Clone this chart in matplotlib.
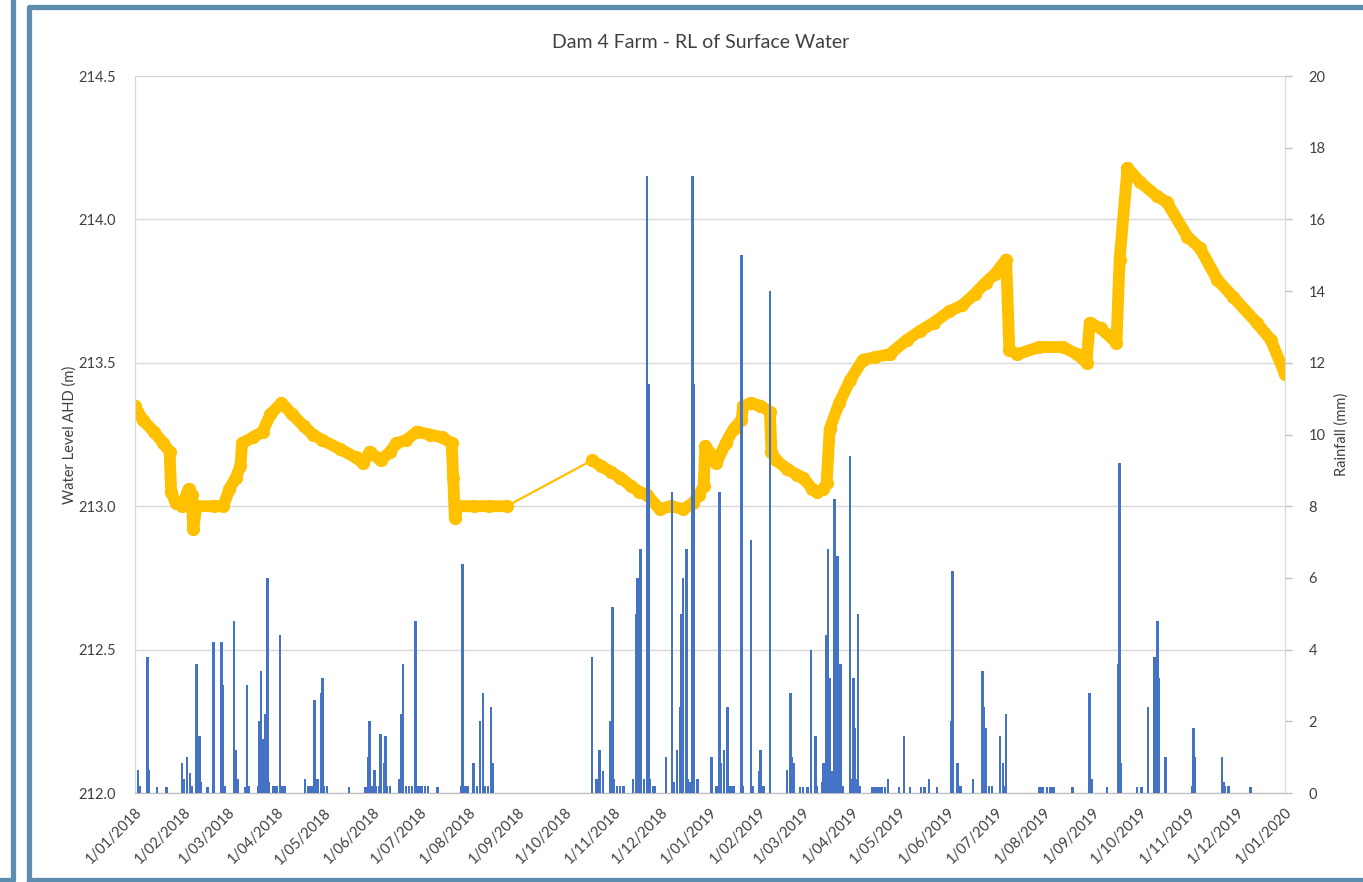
import numpy as np
import matplotlib
matplotlib.use("Agg")
import matplotlib.pyplot as plt
import matplotlib.dates as mdates
from matplotlib.lines import Line2D

plt.rcParams['font.family'] = ['Lato', 'DejaVu Sans']

# days counted from 1/01/2018
start = np.datetime64('2018-01-01')
end = np.datetime64('2020-01-01')

# water level (m AHD)
level_day = [0, 5, 12, 18, 22, 23, 26, 30, 34, 36, 37, 39, 50, 56, 60, 64, 67, 68,
             75, 81, 86, 93, 100, 107, 113, 119, 130, 140, 145, 149, 156, 162, 166,
             172, 179, 187, 195, 201, 202, 203, 205, 215, 225, 236,
             290, 296, 302, 308, 315, 320, 325, 333, 340, 348, 354, 358, 361, 362,
             366, 369, 375, 380, 385, 386, 391, 397, 403, 404, 407, 414, 420, 424,
             430, 433, 437, 439, 441, 447, 454, 462, 470, 479, 490, 498, 507, 517,
             525, 533, 540, 546, 553, 555, 560, 574, 589, 598, 604, 606, 613, 623,
             625, 630, 638, 649, 655, 668, 676, 687, 697, 712, 721, 730]
level_m = [213.35, 213.30, 213.26, 213.22, 213.19, 213.05, 213.01, 213.00, 213.06,
           213.04, 212.92, 213.00, 213.00, 213.00, 213.06, 213.10, 213.14, 213.22,
           213.24, 213.26, 213.32, 213.36, 213.32, 213.28, 213.25, 213.23, 213.20,
           213.17, 213.15, 213.19, 213.16, 213.19, 213.22, 213.23, 213.26, 213.25,
           213.24, 213.22, 213.10, 212.96, 213.00, 213.00, 213.00, 213.00,
           213.16, 213.14, 213.12, 213.10, 213.07, 213.05, 213.04, 212.99, 213.00,
           212.99, 213.01, 213.04, 213.07, 213.21, 213.18, 213.15, 213.22, 213.27,
           213.30, 213.35, 213.36, 213.35, 213.33, 213.19, 213.16, 213.13, 213.11,
           213.10, 213.06, 213.05, 213.06, 213.08, 213.27, 213.36, 213.44, 213.51,
           213.52, 213.53, 213.58, 213.61, 213.64, 213.68, 213.70, 213.74, 213.78,
           213.81, 213.86, 213.545, 213.53, 213.555, 213.555, 213.53, 213.50, 213.64,
           213.62, 213.57, 213.86, 214.18, 214.13, 214.08, 214.06, 213.94, 213.90,
           213.79, 213.73, 213.64, 213.58, 213.46]
gap_from, gap_to = 236, 290  # no logger data in between

# daily rainfall (mm)
rain_day = [2, 3, 8, 9, 14, 20, 30, 31, 33, 35, 36, 39, 41, 42, 46, 50, 55, 56, 57,
            63, 64, 65, 70, 71, 72, 78, 79, 80, 81, 82, 83, 84, 85, 88, 90, 92, 93,
            95, 108, 110, 112, 114, 115, 116, 118, 119, 120, 122, 136, 146, 147,
            148, 149, 150, 152, 153, 155, 156, 158, 159, 160, 162, 168, 169, 170,
            172, 174, 176, 178, 180, 182, 184, 186, 192,
            207, 208, 209, 210, 211, 215, 217, 219, 221, 222, 224, 226, 227,
            290, 293, 295, 297, 302, 303, 304, 306, 308, 310, 316, 318, 319, 321,
            323, 325, 326, 327, 329, 330, 337, 341, 342, 344, 346, 347, 348, 350,
            351, 352, 354, 355, 357, 366, 369, 371, 372, 374, 376,
            378, 380, 385, 386, 391, 392, 396, 397, 399, 403, 414, 416, 417, 418,
            422, 424, 427, 429, 432, 433, 436, 437, 439, 440, 441, 442, 443, 444,
            445, 446, 447, 448, 449, 454, 455, 456, 457, 458, 459, 460,
            468, 470, 472, 474, 476, 478, 485, 488, 492, 499, 501, 504, 509,
            518, 519, 522, 523, 524, 532, 538, 539, 540, 542, 544, 549, 551, 552,
            553, 574, 576, 579, 581, 583, 595, 606, 607, 617, 624, 625, 626, 636,
            639, 643, 647, 649, 650, 654, 671, 672, 673, 690, 691, 692, 694, 708]
rain_mm = [0.64, 0.2, 3.8, 0.64, 0.18, 0.18, 0.83, 0.4, 1.0, 0.55, 0.2, 3.6, 1.6,
           0.3, 0.18, 4.2, 4.2, 3.0, 0.2, 4.8, 1.2, 0.4, 0.18, 3.0, 0.2, 0.2, 2.0,
           3.4, 1.5, 0.4, 2.2, 6.0, 0.3, 0.2, 0.2, 4.4, 0.2, 0.2, 0.4, 0.2, 0.2,
           2.6, 0.4, 0.4, 2.8, 3.2, 0.2, 0.2, 0.18, 0.18, 0.18, 1.0, 2.0, 0.2,
           0.64, 0.2, 0.2, 1.65, 0.83, 1.6, 0.2, 0.2, 0.4, 2.2, 3.6, 0.2, 0.2,
           0.2, 4.8, 0.2, 0.2, 0.2, 0.2, 0.18,
           0.2, 6.4, 0.2, 0.2, 0.2, 0.83, 0.2, 2.0, 2.8, 0.2, 0.2, 2.4, 0.83,
           3.8, 0.4, 1.2, 0.6, 2.0, 5.2, 0.4, 0.2, 0.2, 0.2, 0.4, 5.0, 6.0, 6.8,
           0.4, 17.2, 11.4, 0.4, 0.2, 0.2, 1.0, 8.4, 0.3, 1.2, 2.4, 5.0, 6.0, 6.8,
           0.4, 0.3, 17.2, 11.4, 0.4, 1.0, 0.2, 8.4, 0.83, 1.2, 2.4,
           0.2, 0.2, 15.0, 0.2, 7.06, 0.2, 0.62, 1.2, 0.2, 14.0, 0.64, 2.8, 1.0,
           0.83, 0.18, 0.18, 0.18, 4.0, 1.6, 0.2, 0.3, 0.83, 4.4, 6.8, 3.2, 0.6,
           0.4, 8.2, 0.3, 6.6, 0.3, 3.6, 0.2, 9.4, 0.4, 3.2, 1.8, 0.4, 5.0, 0.2,
           0.18, 0.18, 0.18, 0.18, 0.18, 0.4, 0.18, 1.6, 0.18, 0.18, 0.18, 0.4, 0.18,
           2.0, 6.2, 0.83, 0.2, 0.2, 0.4, 3.4, 2.4, 1.8, 0.2, 0.2, 1.6, 0.83, 0.2,
           2.2, 0.18, 0.18, 0.18, 0.18, 0.18, 0.18, 2.8, 0.4, 0.18, 3.6, 9.2, 0.83,
           0.18, 0.18, 2.4, 3.8, 4.8, 3.2, 1.0, 0.2, 1.8, 1.0, 1.0, 0.3, 0.2, 0.2,
           0.18]

level_day = np.array(level_day)
level_m = np.array(level_m)
lvl_dates = start + level_day.astype('timedelta64[D]')
rain_dates = start + np.array(rain_day).astype('timedelta64[D]')

fig = plt.figure(figsize=(13.63, 8.82), dpi=100)
ax = fig.add_axes([0.099, 0.1009, 0.8438, 0.8129])
ax2 = ax.twinx()

gold = '#FFC000'
ax.plot(lvl_dates, level_m, color=gold, lw=1.6, zorder=2)
for m in [level_day <= gap_from, level_day >= gap_to]:
    ax.plot(lvl_dates[m], level_m[m], color=gold, lw=8.5, marker='o', ms=8.5,
            solid_capstyle='round', solid_joinstyle='round', zorder=3)

ax2.bar(rain_dates, rain_mm, width=1.6, color='#4472C4', linewidth=0, zorder=3)

ax.set_xlim(start, end)
ax.set_ylim(212.0, 214.5)
ax.set_yticks(np.arange(212.0, 214.51, 0.5))
ax.yaxis.set_major_formatter(matplotlib.ticker.FormatStrFormatter('%.1f'))
ax.yaxis.grid(True, color='#d9d9d9', lw=1)
ax.set_axisbelow(True)
ax2.set_ylim(0, 20)
ax2.set_yticks(range(0, 21, 2))

ax.xaxis.set_major_locator(mdates.MonthLocator())
ax.xaxis.set_major_formatter(mdates.DateFormatter('1/%m/%Y'))
for lab in ax.get_xticklabels():
    lab.set_rotation(45)
    lab.set_ha('right')
    lab.set_rotation_mode('anchor')

ax.tick_params(axis='x', length=0, pad=9, labelsize=10.5, colors='#404040')
ax.tick_params(axis='y', length=0, pad=14, labelsize=10.5, colors='#404040')
ax2.tick_params(axis='y', length=5, width=1, color='#bfbfbf', pad=12,
                labelsize=10.5, labelcolor='#404040')

for a in (ax, ax2):
    a.spines['top'].set_visible(False)
    a.spines['left'].set_color('#d9d9d9')
    a.spines['right'].set_color('#d9d9d9')
    a.spines['bottom'].set_color('#bfbfbf')

ax.set_ylabel('Water Level AHD (m)', fontsize=10.5, color='#404040', labelpad=1)
ax2.set_ylabel('Rainfall (mm)', fontsize=10.5, color='#404040', labelpad=6)
fig.text(0.514, 0.952, 'Dam 4 Farm - RL of Surface Water', ha='center',
         va='center', fontsize=14, color='#404040')

# surrounding report frames
W, H = 1363, 882
frame = '#5e8cae'
def fline(xs, ys):
    fig.add_artist(Line2D([x / W for x in xs], [1 - y / H for y in ys],
                          color=frame, lw=3.8, transform=fig.transFigure))
fline([29, 29, 1370], [880, 7, 7])
fline([29, 1370], [880, 880])
fline([-5, 13, 13], [880, 880, -5])

fig.savefig('out.png', dpi=100)
